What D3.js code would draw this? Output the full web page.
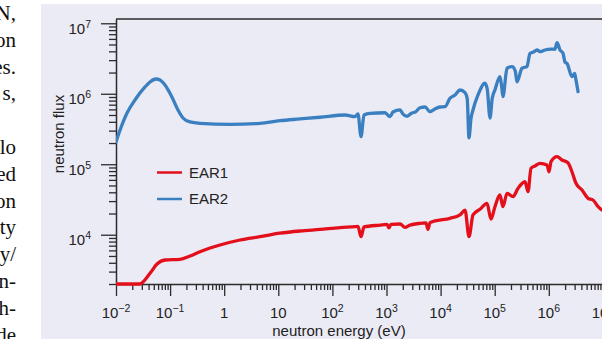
<!DOCTYPE html>
<html>
<head>
<meta charset="utf-8">
<script src="https://cdn.jsdelivr.net/npm/d3@7"></script>
<style>
  html, body { margin: 0; padding: 0; background: #fff; overflow: hidden; }
  svg { display: block; }
</style>
</head>
<body>
<svg id="chart" width="602" height="339"></svg>
<script>
// Neutron flux spectra of the two n_TOF experimental areas
const seriesNames = ["EAR1", "EAR2"];
const seriesColors = ["#e3101b", "#3a7fc0"];

// EAR2 spectrum: neutron energy (eV) and flux
const ear2Energy = [0.01, 0.0119, 0.016, 0.0224, 0.0344, 0.0425, 0.0548, 0.065, 0.0805, 0.108, 0.14, 0.173, 0.233, 0.357,
  1.28, 4.59, 10.7, 25.2, 59, 171, 262, 297, 338, 384, 495, 938, 1160, 1320, 1780, 2000, 2400, 2900, 3500, 4160, 5150, 6370,
  7600, 9750, 12100, 14900, 18500, 22800, 28300, 31000, 33500, 36500, 39700, 49100, 66200, 73000, 81900, 90000, 101000,
  125000, 134000, 142000, 169000, 209000, 240000, 258000, 320000, 395000, 449000, 520000, 605000, 700000, 850000,
  1100000, 1300000, 1420000, 1610000, 1830000, 2000000, 2170000, 2680000, 3000000, 3180000, 3470000];
const ear2Flux = [2.07e5, 3.06e5, 5.33e5, 8.16e5, 1.25e6, 1.47e6, 1.62e6, 1.57e6, 1.33e6, 9.0e5, 5.89e5, 4.53e5, 3.98e5, 3.81e5,
  3.69e5, 3.81e5, 4.15e5, 4.39e5, 4.64e5, 5.0e5, 4.73e5, 5.16e5, 2.46e5, 5.0e5, 5.28e5, 5.38e5, 4.73e5, 5.51e5, 5.89e5, 5.2e5,
  4.8e5, 5.3e5, 5.6e5, 6.34e5, 6.49e5, 5.57e5, 6.0e5, 6.49e5, 6.56e5, 8.63e5, 9.61e5, 1.13e6, 1.04e6, 8.6e5, 2.36e5, 4.5e5,
  5.89e5, 9.61e5, 1.41e6, 1.15e6, 4.53e5, 8.6e5, 1.13e6, 1.75e6, 1.3e6, 9.1e5, 2.30e6, 2.42e6, 2.1e6, 1.48e6, 2.30e6, 2.42e6,
  3.75e6, 3.9e6, 4.18e6, 3.95e6, 4.18e6, 4.3e6, 4.28e6, 5.31e6, 4.18e6, 3.75e6, 2.8e6, 2.70e6, 1.75e6, 1.95e6, 1.57e6, 1.07e6];

// EAR1 spectrum: neutron energy (eV) and flux
const ear1Energy = [0.01, 0.0272, 0.0425, 0.0573, 0.0805, 0.152, 0.233, 0.357, 0.547, 0.836, 1.96, 4.59, 10.7, 25.2, 59, 138,
  262, 297, 338, 384, 759, 1020, 1110, 1210, 1780, 2200, 2720, 4160, 5370, 5850, 6370, 7870, 14900, 22800, 28300, 33500,
  39700, 53500, 72100, 85500, 101000, 125000, 142000, 169000, 218000, 270000, 363000, 413000, 469000, 556000, 687000,
  926000, 1010000, 1100000, 1420000, 1750000, 2260000, 2680000, 3180000, 4110000, 5310000, 6560000, 8130000, 11000000];
const ear1Flux = [1000, 2000, 2840, 3840, 4380, 4480, 4990, 5740, 6480, 7150, 8420, 9380, 10500, 11300, 11900, 12600,
  13000, 13100, 9380, 12900, 13700, 14000, 12500, 14000, 14200, 12700, 13700, 14500, 14700, 11900, 14900, 15700, 17100,
  19100, 22400, 9380, 19100, 23000, 27900, 16600, 25000, 36600, 25000, 38700, 34700, 45600, 56500, 40800, 87700, 94400,
  103000, 97500, 78300, 109000, 128000, 115000, 105000, 78300, 53700, 43100, 32900, 31100, 25000, 21000];

const xTickValues = [1e-2, 1e-1, 1, 10, 1e2, 1e3, 1e4, 1e5, 1e6, 1e7];
const xTickLabels = ["10^−2", "10^−1", "1", "10", "10^2", "10^3", "10^4", "10^5", "10^6", "10^7"];
const yTickValues = [1e4, 1e5, 1e6, 1e7];
const yTickLabels = ["10^4", "10^5", "10^6", "10^7"];

// Column of running text beside the figure
const sideText = ["N,", "on", "es.", "s,", "", "lo", "ed", "on", "ty", "y/", "n-", "h-", "de"];

const svg = d3.select("#chart");
const W = 602, H = 339;
const plotLeft = 116, plotTop = 19, plotBottom = 284, decadeX = 54.1;

// figure panel
svg.append("rect").attr("x", 41).attr("y", 4).attr("width", W - 41).attr("height", H - 4).attr("fill", "#ebebf6");

svg.append("g").selectAll("text").data(sideText).join("text")
  .attr("x", 16).attr("y", (d, i) => 20 + i * 26.8)
  .attr("text-anchor", "end")
  .attr("font-family", "'Liberation Serif', 'DejaVu Serif', serif")
  .attr("font-size", 21).attr("fill", "#111")
  .text(d => d);

const x = d3.scaleLog().domain([1e-2, 1e8]).range([plotLeft, plotLeft + 10 * decadeX]);
const y = d3.scaleLog().domain([2e3, 1.15e7]).range([plotBottom, plotTop]).clamp(true);

function minorTicks(lo, hi) {
  const out = [];
  for (let e = lo; e <= hi; e++) for (let k = 2; k <= 9; k++) out.push(k * Math.pow(10, e));
  return out;
}

const axisColor = "#2b2b2b";
const fontFam = "'Liberation Sans', Arial, sans-serif";

// minor ticks
svg.append("g").attr("transform", `translate(0,${plotBottom})`)
  .call(d3.axisBottom(x).tickValues(minorTicks(-2, 7)).tickSize(6).tickFormat(""))
  .call(g => g.select(".domain").remove());
svg.append("g").attr("transform", `translate(${plotLeft},0)`)
  .call(d3.axisLeft(y).tickValues(minorTicks(3, 6).filter(v => v >= 2e3)).tickSize(7).tickFormat(""))
  .call(g => g.select(".domain").remove());

// major ticks and axis lines
svg.append("g").attr("transform", `translate(0,${plotBottom})`)
  .call(d3.axisBottom(x).tickValues(xTickValues).tickSize(12).tickSizeOuter(0).tickFormat(""));
svg.append("g").attr("transform", `translate(${plotLeft},0)`)
  .call(d3.axisLeft(y).tickValues(yTickValues).tickSize(15).tickSizeOuter(0).tickFormat(""));

svg.selectAll(".tick line").attr("stroke", axisColor).attr("stroke-width", 1.3);
svg.selectAll(".domain").attr("stroke", axisColor).attr("stroke-width", 1.5);

// top frame
svg.append("line").attr("x1", plotLeft).attr("x2", W).attr("y1", plotTop).attr("y2", plotTop)
  .attr("stroke", axisColor).attr("stroke-width", 1.5);

function powerLabel(sel, label) {
  const parts = label.split("^");
  sel.append("tspan").text(parts[0]);
  if (parts.length > 1) sel.append("tspan").attr("dy", -6).attr("font-size", 10.5).text(parts[1]);
}

svg.append("g").selectAll("text").data(xTickValues).join("text")
  .attr("x", d => x(d)).attr("y", 318)
  .attr("text-anchor", "middle").attr("font-family", fontFam).attr("font-size", 15).attr("fill", "#222")
  .each(function (d, i) { powerLabel(d3.select(this), xTickLabels[i]); });

svg.append("g").selectAll("text").data(yTickValues).join("text")
  .attr("x", 91).attr("y", d => y(d) + 10.5)
  .attr("text-anchor", "end").attr("font-family", fontFam).attr("font-size", 15).attr("fill", "#222")
  .each(function (d, i) { powerLabel(d3.select(this), yTickLabels[i]); });

// axis titles
svg.append("text").attr("x", 339).attr("y", 336).attr("text-anchor", "middle")
  .attr("font-family", fontFam).attr("font-size", 15).attr("fill", "#222").text("neutron energy (eV)");
svg.append("text").attr("transform", "translate(64,134) rotate(-90)").attr("text-anchor", "middle")
  .attr("font-family", fontFam).attr("font-size", 15).attr("fill", "#222").text("neutron flux");

// spectra
svg.append("clipPath").attr("id", "plotClip").append("rect")
  .attr("x", plotLeft).attr("y", plotTop - 2).attr("width", W - plotLeft).attr("height", plotBottom - plotTop + 4);

const line = d3.line().curve(d3.curveMonotoneX).x(d => x(d[0])).y(d => y(d[1]));
const series = [
  d3.zip(ear1Energy, ear1Flux),
  d3.zip(ear2Energy, ear2Flux)
];
svg.append("g").attr("clip-path", "url(#plotClip)").selectAll("path").data(series).join("path")
  .attr("d", line).attr("fill", "none")
  .attr("stroke", (d, i) => seriesColors[i]).attr("stroke-width", 3.3)
  .attr("stroke-linejoin", "round").attr("stroke-linecap", "round");

// legend
const legend = svg.append("g").selectAll("g").data(seriesNames).join("g")
  .attr("transform", (d, i) => `translate(157,${172.5 + i * 26.5})`);
legend.append("line").attr("x1", 0).attr("x2", 25).attr("y1", 0).attr("y2", 0)
  .attr("stroke", (d, i) => seriesColors[i]).attr("stroke-width", 2.5);
legend.append("text").attr("x", 32).attr("y", 5.3)
  .attr("font-family", fontFam).attr("font-size", 15).attr("fill", "#222").text(d => d);
</script>
</body>
</html>
